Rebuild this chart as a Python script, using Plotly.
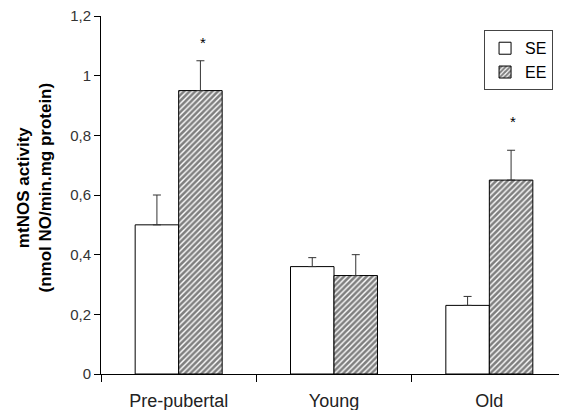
import plotly.graph_objects as go

categories = ["Pre-pubertal", "Young", "Old"]
se_values = [0.50, 0.36, 0.23]
se_errors = [0.10, 0.03, 0.03]
ee_values = [0.95, 0.33, 0.65]
ee_errors = [0.10, 0.07, 0.10]
star_y = [1.11, None, 0.845]
ytick_vals = [0, 0.2, 0.4, 0.6, 0.8, 1.0, 1.2]
ytick_text = ["0", "0,2", "0,4", "0,6", "0,8", "1", "1,2"]

FONT = "Liberation Sans, Arial, sans-serif"

fig = go.Figure()
fig.add_trace(go.Bar(
    x=categories, y=se_values, name="SE",
    marker=dict(color="white", line=dict(color="black", width=1)),
    error_y=dict(type="data", symmetric=False, array=se_errors,
                 arrayminus=[0] * 3, color="#333333", thickness=1, width=4),
))
fig.add_trace(go.Bar(
    x=categories, y=ee_values, name="EE",
    marker=dict(color="white", line=dict(color="black", width=1),
                pattern=dict(shape="/", fgcolor="black", bgcolor="white",
                             size=4, solidity=0.65)),
    error_y=dict(type="data", symmetric=False, array=ee_errors,
                 arrayminus=[0] * 3, color="#333333", thickness=1, width=4),
))

for cat, sy in zip(categories, star_y):
    if sy is not None:
        fig.add_annotation(x=cat, y=sy, text="*", showarrow=False,
                           xshift=24, font=dict(size=15, color="black"))

fig.add_annotation(
    xref="paper", yref="paper", x=-0.143, y=0.522, xanchor="center",
    yanchor="middle", textangle=-90, showarrow=False,
    text="<b>mtNOS activity<br>(nmol NO/min.mg protein)</b>",
    font=dict(size=17, color="black", family=FONT),
)

fig.update_layout(
    width=567, height=410,
    margin=dict(l=93, r=8, t=8, b=44),
    paper_bgcolor="white", plot_bgcolor="white",
    barmode="group", bargap=0.44, bargroupgap=0,
    font=dict(family=FONT, color="#222222"),
    showlegend=True,
    legend=dict(x=0.822, y=0.96, xanchor="left", yanchor="top",
                bordercolor="#444444", borderwidth=1, bgcolor="white",
                font=dict(size=16, color="black", family=FONT),
                tracegroupgap=0, itemwidth=30),
    xaxis=dict(type="category", range=[-0.5, 2.5], showline=True,
               linecolor="black", linewidth=1, ticks="outside",
               tickson="boundaries", ticklen=7, tickcolor="black",
               tickfont=dict(size=18, color="#222222"), showgrid=False,
               zeroline=False, automargin=False, ticklabelstandoff=10,
               ticklabeloverflow="allow"),
    yaxis=dict(range=[0, 1.2], tickvals=ytick_vals, ticktext=ytick_text,
               showline=True, linecolor="black", linewidth=1,
               ticks="outside", ticklen=6, tickcolor="black",
               tickfont=dict(size=15, color="#333333"), showgrid=False,
               zeroline=False, automargin=False,
               ticklabeloverflow="allow"),
)

fig.write_html("out.html")
